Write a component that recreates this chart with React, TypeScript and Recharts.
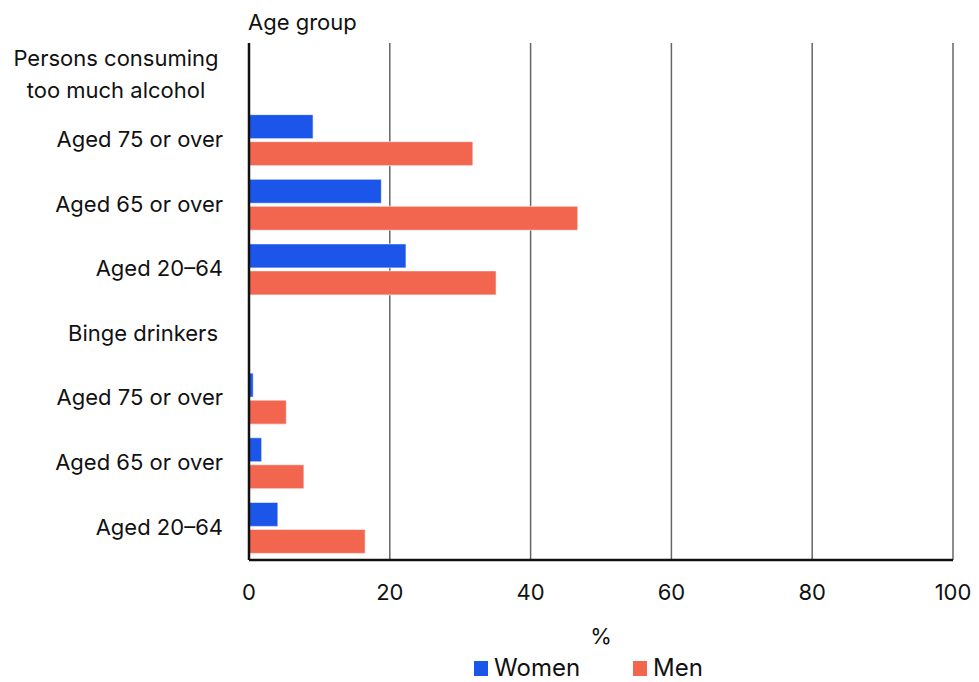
import React from 'react';
import { BarChart, Bar, XAxis, YAxis, CartesianGrid, Legend } from 'recharts';

const categories = [
  'Persons consuming\ntoo much alcohol',
  'Aged 75 or over',
  'Aged 65 or over',
  'Aged 20–64',
  'Binge drinkers',
  'Aged 75 or over',
  'Aged 65 or over',
  'Aged 20–64',
];
const women = [null, 9.1, 18.8, 22.3, null, 0.6, 1.8, 4.1];
const men = [null, 31.8, 46.7, 35.1, null, 5.3, 7.8, 16.5];
const xTicks = [0, 20, 40, 60, 80, 100];

const WOMEN_COLOR = '#1b55ea';
const MEN_COLOR = '#f2654f';
const FONT = 'Inter, Roboto, sans-serif';
const FS = 22;

const data = categories.map((label, i) => ({
  key: `row-${i}`,
  label,
  women: women[i],
  men: men[i],
}));

const CategoryTick = (props: any) => {
  const { x, y, index } = props;
  const label = categories[index] ?? '';
  const lines = label.split('\n');
  if (lines.length > 1) {
    // two-line heading, centred
    return (
      <text x={x - 107} y={y} textAnchor="middle" fontSize={FS} fill="#111" fontFamily={FONT}>
        {lines.map((l, k) => (
          <tspan key={k} x={x - 107} dy={k === 0 ? -9 : 32}>
            {l}
          </tspan>
        ))}
      </text>
    );
  }
  const isHeading = women[index] == null;
  return (
    <text
      x={isHeading ? x - 5 : x}
      y={y}
      dy={7}
      textAnchor="end"
      fontSize={FS}
      fill="#111"
      fontFamily={FONT}
    >
      {label}
    </text>
  );
};

const LegendContent = () => (
  <div
    style={{
      display: 'flex',
      justifyContent: 'center',
      alignItems: 'flex-end',
      height: 62,
      paddingLeft: 224,
      paddingBottom: 1,
      boxSizing: 'border-box',
      fontFamily: FONT,
      fontSize: 24,
      color: '#111',
    }}
  >
    {[
      { name: 'Women', color: WOMEN_COLOR },
      { name: 'Men', color: MEN_COLOR },
    ].map((item, i) => (
      <div
        key={item.name}
        style={{ display: 'flex', alignItems: 'center', marginLeft: i === 0 ? 0 : 53 }}
      >
        <span style={{ width: 14, height: 15, background: item.color, marginRight: 6, display: 'inline-block' }} />
        <span style={{ lineHeight: '26px' }}>{item.name}</span>
      </div>
    ))}
  </div>
);

export default function App() {
  return (
    <div style={{ position: 'absolute', left: 0, top: 0, background: '#fff' }}>
      <BarChart
        width={979}
        height={682}
        data={data}
        layout="vertical"
        margin={{ top: 43, right: 26, left: 0, bottom: 0 }}
        barCategoryGap={7}
        barGap={3}
      >
        <CartesianGrid horizontal={false} vertical stroke="#666" strokeWidth={1.5} />
        <XAxis
          type="number"
          domain={[0, 100]}
          ticks={xTicks}
          interval={0}
          tickLine={false}
          tickSize={0}
          tickMargin={24}
          height={60}
          axisLine={{ stroke: '#111', strokeWidth: 2.5 }}
          tick={{ fontSize: FS, fill: '#111', fontFamily: FONT }}
          label={{
            content: (p: any) => {
              const vb = p.viewBox;
              return (
                <text
                  x={vb.x + vb.width / 2}
                  y={vb.y + 84}
                  fontSize={FS}
                  fill="#111"
                  fontFamily={FONT}
                  textAnchor="middle"
                >
                  %
                </text>
              );
            },
          }}
        />
        <YAxis
          type="category"
          dataKey="key"
          width={249}
          tickLine={false}
          tickSize={0}
          tickMargin={26}
          interval={0}
          axisLine={{ stroke: '#111', strokeWidth: 2.5 }}
          tick={<CategoryTick />}
          label={{
            content: (p: any) => {
              const vb = p.viewBox;
              return (
                <text
                  x={vb.x + vb.width - 1}
                  y={vb.y - 13}
                  fontSize={FS}
                  fill="#111"
                  fontFamily={FONT}
                  textAnchor="start"
                >
                  Age group
                </text>
              );
            },
          }}
        />
        <Legend verticalAlign="bottom" height={62} content={<LegendContent />} />
        <Bar dataKey="women" name="Women" fill={WOMEN_COLOR} stroke="rgba(255,255,255,0.6)" strokeWidth={1} isAnimationActive={false} />
        <Bar dataKey="men" name="Men" fill={MEN_COLOR} stroke="rgba(255,255,255,0.6)" strokeWidth={1} isAnimationActive={false} />
      </BarChart>
    </div>
  );
}
